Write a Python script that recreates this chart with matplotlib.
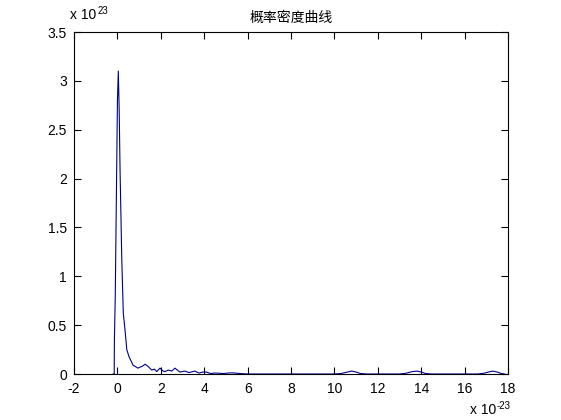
import matplotlib
matplotlib.use('Agg')
import matplotlib.pyplot as plt

plt.rcParams['font.family'] = ['Liberation Sans', 'Noto Sans CJK SC', 'DejaVu Sans']
plt.rcParams['axes.unicode_minus'] = False

# x in units of 1e-23, density in units of 1e23
x = [-0.20, -0.15, -0.14, -0.10, -0.05, 0.00, 0.04, 0.08, 0.12, 0.20, 0.27,
     0.35, 0.43, 0.53, 0.72, 0.95, 1.04, 1.15, 1.27, 1.40, 1.58, 1.70, 1.81,
     1.96, 2.10, 2.19, 2.35, 2.50, 2.65, 2.88, 3.10, 3.30, 3.57, 3.75, 3.94,
     4.10, 4.30, 4.50, 4.90, 5.10, 5.30, 5.50, 5.70, 6.00, 8.00, 10.0, 10.3,
     10.6, 10.8, 11.0, 11.2, 11.5, 13.0, 13.3, 13.6, 13.8, 14.0, 14.2, 14.5,
     16.6, 16.9, 17.1, 17.3, 17.5, 17.7, 17.85]
y = [0.00, 0.00, 0.35, 0.80, 1.80, 2.80, 3.10, 2.70, 2.09, 1.17, 0.62,
     0.45, 0.25, 0.18, 0.09, 0.06, 0.07, 0.08, 0.10, 0.08, 0.04, 0.05, 0.025,
     0.06, 0.03, 0.025, 0.04, 0.03, 0.06, 0.02, 0.03, 0.015, 0.03, 0.01, 0.02,
     0.02, 0.005, 0.01, 0.005, 0.01, 0.012, 0.008, 0.004, 0.0, 0.0, 0.0, 0.005,
     0.02, 0.03, 0.02, 0.005, 0.0, 0.0, 0.008, 0.025, 0.03, 0.02, 0.005, 0.0,
     0.0, 0.008, 0.02, 0.03, 0.02, 0.005, 0.0]
xticks = list(range(-2, 19, 2))
yticks = [0, 0.5, 1, 1.5, 2, 2.5, 3, 3.5]
ylabels = ['0', '0.5', '1', '1.5', '2', '2.5', '3', '3.5']

fig = plt.figure(figsize=(5.61, 4.2), dpi=100)
ax = fig.add_axes([0.132, 0.1095, 0.7735, 0.8143])
ax.plot(x, y, color='#00008b', linewidth=0.8)

ax.set_xlim(-2, 18)
ax.set_ylim(0, 3.5)
ax.set_xticks(xticks)
ax.set_xticklabels([str(t) for t in xticks])
ax.set_yticks(yticks)
ax.set_yticklabels(ylabels)
ax.tick_params(direction='in', top=True, right=True, labelsize=10, length=5, width=0.8)
ax.tick_params(axis='x', pad=6)
ax.tick_params(axis='y', pad=5)
for s in ax.spines.values():
    s.set_linewidth(0.8)

ax.set_title('概率密度曲线', fontsize=10, pad=7)

# MATLAB-style exponent labels
t1 = fig.text(0.125, 0.948, 'x 10', fontsize=10, ha='left', va='bottom')
ax.annotate('23', xy=(1, 1), xycoords=t1, xytext=(0.5, -2), textcoords='offset points',
            fontsize=7, ha='left', va='center')
t2 = fig.text(0.838, 0.006, 'x 10', fontsize=10, ha='left', va='bottom')
ax.annotate('-23', xy=(1, 1), xycoords=t2, xytext=(0.5, -2), textcoords='offset points',
            fontsize=7, ha='left', va='center')

fig.savefig('out.png', dpi=100)
